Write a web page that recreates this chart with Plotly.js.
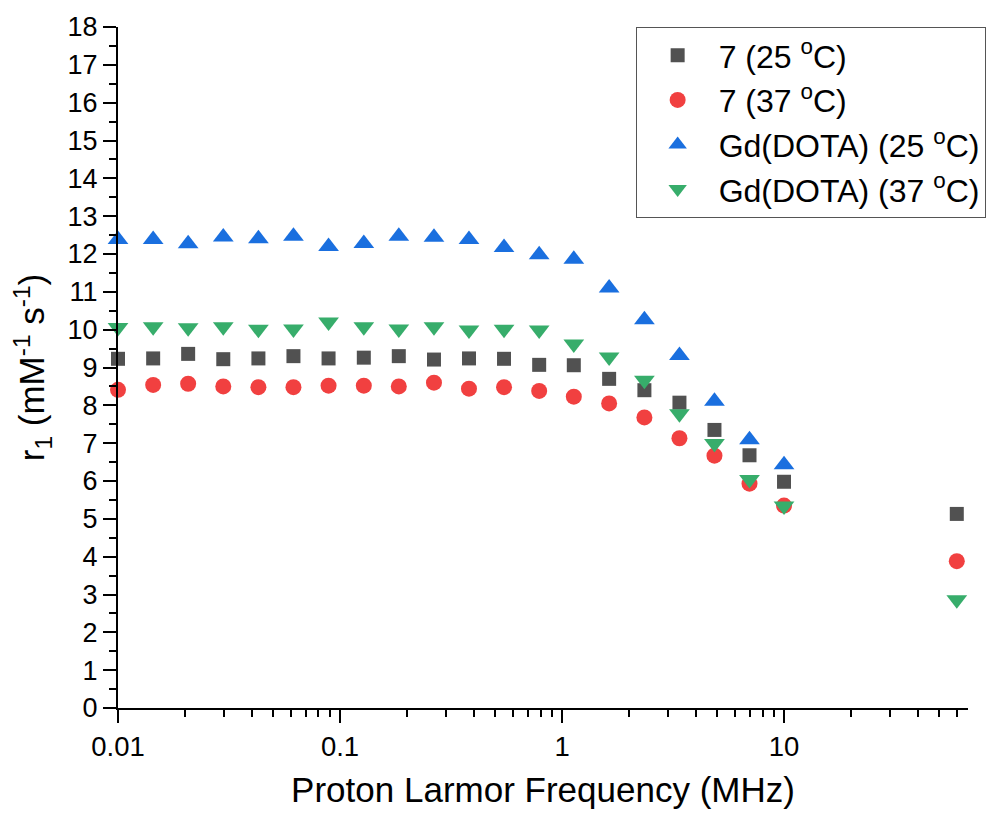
<!DOCTYPE html>
<html>
<head>
<meta charset="utf-8">
<script src="https://cdn.plot.ly/plotly-3.0.1.min.js"></script>
<style>
  html, body { margin: 0; padding: 0; background: #fff; }
  #chart { width: 989px; height: 816px; }
</style>
</head>
<body>
<div id="chart"></div>
<script>
// Proton Larmor frequency (MHz)
const freq = [0.01, 0.0144, 0.0207, 0.0298, 0.0429, 0.0617, 0.0888, 0.128, 0.184, 0.265, 0.381, 0.548, 0.789, 1.13, 1.63, 2.35, 3.38, 4.86, 6.99, 10.0, 60.0];
const freqDOTA25 = [0.01, 0.0144, 0.0207, 0.0298, 0.0429, 0.0617, 0.0888, 0.128, 0.184, 0.265, 0.381, 0.548, 0.789, 1.13, 1.63, 2.35, 3.38, 4.86, 6.99, 10.0];

// r1 (mM^-1 s^-1)
const r1_7_25 = [9.23, 9.24, 9.36, 9.22, 9.24, 9.30, 9.24, 9.26, 9.30, 9.21, 9.24, 9.23, 9.07, 9.06, 8.70, 8.40, 8.07, 7.35, 6.68, 5.98, 5.13];
const r1_7_37 = [8.41, 8.54, 8.57, 8.50, 8.48, 8.48, 8.52, 8.52, 8.50, 8.60, 8.44, 8.48, 8.38, 8.23, 8.05, 7.68, 7.13, 6.67, 5.93, 5.35, 3.88];
const r1_DOTA_25 = [12.38, 12.38, 12.27, 12.45, 12.40, 12.47, 12.20, 12.28, 12.47, 12.44, 12.38, 12.17, 11.98, 11.86, 11.10, 10.26, 9.32, 8.11, 7.09, 6.43];
const r1_DOTA_37 = [10.06, 10.08, 10.05, 10.08, 10.01, 10.02, 10.20, 10.08, 10.02, 10.08, 9.99, 10.01, 9.99, 9.62, 9.28, 8.66, 7.78, 6.99, 6.04, 5.34, 2.86];

const seriesNames = ['7 (25 <sup>o</sup>C)', '7 (37 <sup>o</sup>C)', 'Gd(DOTA) (25 <sup>o</sup>C)', 'Gd(DOTA) (37 <sup>o</sup>C)'];

const xTickVals = [0.01, 0.1, 1, 10];
const xTickText = ['0.01', '0.1', '1', '10'];

// minor tick positions (axis decoration)
const xMinor = [];
[0.01, 0.1, 1, 10].forEach(d => { for (let k = 2; k <= 9; k++) xMinor.push(d * k); });

const FONT = 'Liberation Sans, Arial, Helvetica, sans-serif';

const traces = [
  { x: freq, y: r1_7_25, name: seriesNames[0], legendgroup: 'a',
    marker: { symbol: 'square', size: 14, color: '#515151' } },
  { x: freq, y: r1_7_37, name: seriesNames[1], legendgroup: 'b',
    marker: { symbol: 'circle', size: 16, color: '#F14040' } },
  { x: freqDOTA25, y: r1_DOTA_25, name: seriesNames[2], legendgroup: 'c',
    marker: { symbol: 'triangle-up', size: 18, color: '#1A6FDF' } },
  { x: freq, y: r1_DOTA_37, name: seriesNames[3], legendgroup: 'd',
    marker: { symbol: 'triangle-down', size: 18, color: '#37AD6B' } }
].map(t => Object.assign({ type: 'scatter', mode: 'markers', cliponaxis: false }, t));

const layout = {
  width: 989, height: 816,
  margin: { l: 118, r: 21, t: 27, b: 108, autoexpand: false },
  paper_bgcolor: '#fff', plot_bgcolor: '#fff',
  font: { family: FONT, color: '#000', size: 27 },
  showlegend: true,
  legend: {
    x: 0.609, y: 1, xanchor: 'left', yanchor: 'top',
    bordercolor: '#555', borderwidth: 1, bgcolor: 'rgba(255,255,255,0)',
    font: { family: FONT, size: 32, color: '#000' },
    tracegroupgap: 0, itemwidth: 72
  },
  xaxis: {
    type: 'log',
    range: [-2, Math.log10(67.4)],
    tickmode: 'array', tickvals: xTickVals, ticktext: xTickText,
    ticks: 'outside', ticklen: 13, tickwidth: 2, tickcolor: '#000',
    showline: true, linecolor: '#000', linewidth: 2,
    showgrid: false, zeroline: false,
    tickfont: { family: FONT, size: 27.5, color: '#000' },
    minor: { tickmode: 'array', tickvals: xMinor, ticks: 'outside', ticklen: 7, tickwidth: 2, tickcolor: '#000', showgrid: false },
    title: { text: 'Proton Larmor Frequency (MHz)', font: { family: FONT, size: 35, color: '#000' }, standoff: 16 }
  },
  yaxis: {
    range: [0, 18],
    tickmode: 'linear', tick0: 0, dtick: 1,
    ticks: 'outside', ticklen: 13, tickwidth: 2, tickcolor: '#000',
    showline: true, linecolor: '#000', linewidth: 2,
    showgrid: false, zeroline: false,
    tickfont: { family: FONT, size: 27, color: '#000' },
    minor: { dtick: 0.5, ticks: 'outside', ticklen: 7, tickwidth: 2, tickcolor: '#000', showgrid: false },
    title: { text: 'r<sub>1</sub> (mM<sup>-1</sup> s<sup>-1</sup>)', font: { family: FONT, size: 35, color: '#000' }, standoff: 12 }
  }
};

Plotly.newPlot('chart', traces, layout, { staticPlot: true, displayModeBar: false });
</script>
</body>
</html>
